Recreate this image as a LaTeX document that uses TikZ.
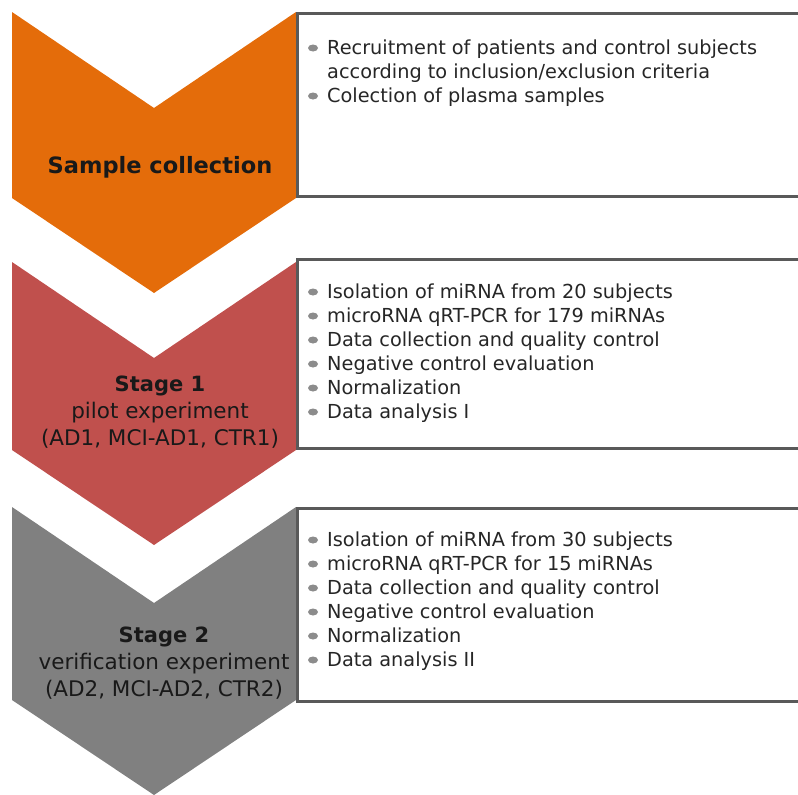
\documentclass[tikz,border=0pt]{standalone}
\usepackage{fontspec}
\setmainfont{DejaVu Sans}
\definecolor{stageorange}{HTML}{E46C0A}
\definecolor{stagered}{HTML}{C0504D}
\definecolor{stagegray}{HTML}{808080}
\definecolor{boxline}{HTML}{595959}
\definecolor{itemtext}{HTML}{262626}
\definecolor{dotgray}{HTML}{8C8C8C}
\begin{document}
\begin{tikzpicture}[x=1pt,y=-1pt]
	\tikzstyle{taskbox} = [draw=boxline,line width=3pt,fill=white,anchor=north west,inner sep=0pt]
	\tikzstyle{stagelabel} = [align=center,font=\fontsize{21.5}{27}\selectfont,text=black!90]
	\tikzstyle{item} = [anchor=base west,inner sep=0pt,font=\fontsize{19.3}{24}\selectfont,text=itemtext]
	\useasboundingbox (0,0) rectangle (798,795);
	\clip (0,0) rectangle (798,795);
	% chevrons
	\foreach \top/\bot/\col in {12/198/stageorange, 262/450/stagered, 507/700/stagegray}
		\fill[\col] (12,\top) -- (154,\top+96) -- (296,\top) -- (296,\bot) -- (154,\bot+95) -- (12,\bot) -- cycle;
	% task boxes
	\node[taskbox,minimum width=530pt,minimum height=183pt] (collectbox) at (296,12) {};
	\node[taskbox,minimum width=530pt,minimum height=189pt] (pilotbox) at (296,258) {};
	\node[taskbox,minimum width=530pt,minimum height=193pt] (verifybox) at (296,507) {};
	% stage labels
	\node[stagelabel,font=\fontsize{22.5}{27}\bfseries] (collect) at (160,167) {Sample collection};
	\node[stagelabel] (pilot) at (160,412) {{\fontsize{21}{27}\bfseries Stage 1}\\pilot experiment\\(AD1, MCI-AD1, CTR1)};
	\node[stagelabel] (verify) at (164,663) {{\fontsize{21}{27}\bfseries Stage 2}\\verification experiment\\(AD2, MCI-AD2, CTR2)};
	% sample collection items
	\node[item] (collect1) at (327,54) {Recruitment of patients and control subjects};
	\node[item] (collect1b) at (327,78) {according to inclusion/exclusion criteria};
	\node[item] (collect2) at (327,102) {Colection of plasma samples};
	\foreach \n in {collect1,collect2}
		\fill[dotgray] ([xshift=-14pt,yshift=6pt]\n.base west) ellipse (5pt and 3.5pt);
	% stage 1 items
	\foreach \txt [count=\i] in {Isolation of miRNA from 20 subjects,microRNA qRT-PCR for 179 miRNAs,Data collection and quality control,Negative control evaluation,Normalization,Data analysis I}
	{
		\node[item] (pilot\i) at (327,274+24*\i) {\txt};
		\fill[dotgray] ([xshift=-14pt,yshift=6pt]pilot\i.base west) ellipse (5pt and 3.5pt);
	}
	% stage 2 items
	\foreach \txt [count=\i] in {Isolation of miRNA from 30 subjects,microRNA qRT-PCR for 15 miRNAs,Data collection and quality control,Negative control evaluation,Normalization,Data analysis II}
	{
		\node[item] (verify\i) at (327,522+24*\i) {\txt};
		\fill[dotgray] ([xshift=-14pt,yshift=6pt]verify\i.base west) ellipse (5pt and 3.5pt);
	}
\end{tikzpicture}
\end{document}
